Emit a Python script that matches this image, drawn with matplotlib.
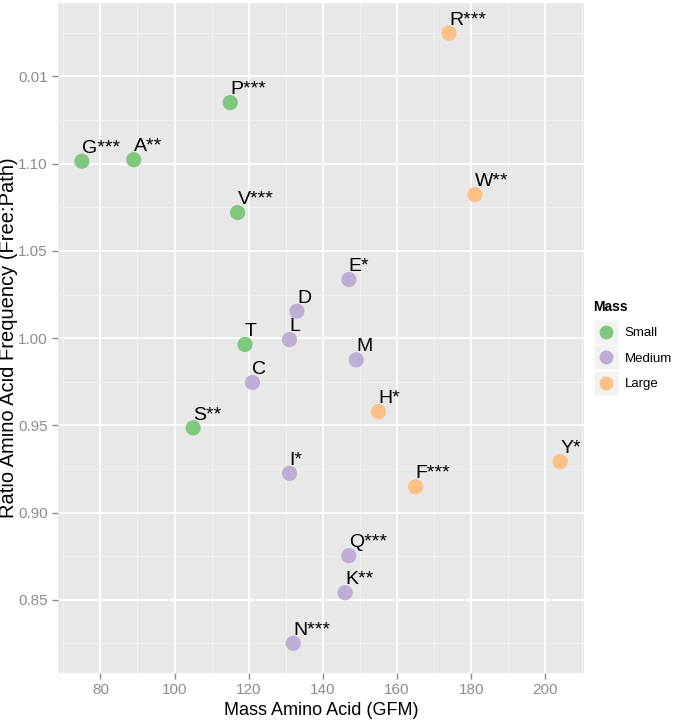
import matplotlib
matplotlib.use("Agg")
import matplotlib.pyplot as plt
from matplotlib.lines import Line2D
import numpy as np

plt.rcParams['font.family'] = ['Liberation Sans', 'DejaVu Sans']

# values
labels = ["G***", "A**", "P***", "V***", "T", "S**",
          "D", "L", "E*", "M", "C", "I*", "Q***", "K**", "N***",
          "R***", "W**", "H*", "F***", "Y*"]
mass = [75, 89, 115, 117, 119, 105,
        133, 131, 147, 149, 121, 131, 147, 146, 132,
        174, 181, 155, 165, 204]
ratio = [1.1014, 1.1023, 1.135, 1.072, 0.9964, 0.9486,
         1.0155, 0.9992, 1.0336, 0.9876, 0.9746, 0.9225, 0.8753, 0.8541, 0.8251,
         1.1748, 1.0823, 0.9578, 0.9148, 0.9292]
group = ["Small"] * 6 + ["Medium"] * 9 + ["Large"] * 5

groups = ["Small", "Medium", "Large"]
colors = {"Small": "#7FC97F", "Medium": "#BEAED4", "Large": "#FDC086"}

yticks = [0.85, 0.90, 0.95, 1.00, 1.05, 1.10, 1.15]
yticklabels = ["0.85", "0.90", "0.95", "1.00", "1.05", "1.10", "0.01"]
xticks = [80, 100, 120, 140, 160, 180, 200]

fig = plt.figure(figsize=(6.78, 7.2), dpi=100)
ax = fig.add_axes([0.0855, 0.0653, 0.776, 0.930])
ax.set_facecolor("#E8E8E8")

for g in groups:
    xs = [m for m, gg in zip(mass, group) if gg == g]
    ys = [r for r, gg in zip(ratio, group) if gg == g]
    ax.scatter(xs, ys, s=120, color=colors[g], edgecolors="none", zorder=3)

for lab, x, y in zip(labels, mass, ratio):
    ax.annotate(lab, (x, y), xytext=(0, 6), textcoords="offset points",
                ha="left", va="baseline", fontsize=14, color="black",
                zorder=4, clip_on=True)

ax.set_xlim(68.55, 210.45)
ax.set_ylim(0.8081, 1.1919)
ax.set_xticks(xticks)
ax.set_yticks(yticks)
ax.set_yticklabels(yticklabels)
ax.set_xticks(np.arange(70, 211, 10), minor=True)
ax.set_yticks(np.arange(0.825, 1.19, 0.05), minor=True)

ax.grid(which="major", color="white", linewidth=1.3)
ax.grid(which="minor", color="#F3F3F3", linewidth=0.6)
ax.set_axisbelow(True)
for sp in ax.spines.values():
    sp.set_visible(False)

ax.tick_params(which="major", length=4, width=1, color="#8C8C8C",
               labelcolor="#8C8C8C", labelsize=11)
ax.tick_params(which="minor", length=0)

ax.set_xlabel("Mass Amino Acid (GFM)", fontsize=13, labelpad=3)
ax.set_ylabel("Ratio Amino Acid Frequency (Free:Path)", fontsize=14.5, labelpad=0)

handles = []
for g in groups:
    box = Line2D([], [], marker="s", linestyle="none", markersize=17,
                 markerfacecolor="#F2F2F2", markeredgecolor="none")
    dot = Line2D([], [], marker="o", linestyle="none", markersize=10,
                 markerfacecolor=colors[g], markeredgecolor="none")
    handles.append((box, dot))
leg = fig.legend(handles, groups, title="Mass", loc="upper left",
                 bbox_to_anchor=(593 / 678, 1 - 300 / 720), frameon=False,
                 fontsize=9.5, title_fontsize=10, handletextpad=0.5,
                 handlelength=1.9, labelspacing=1.0, borderaxespad=0,
                 borderpad=0)
leg.get_title().set_fontweight("bold")
leg._legend_box.align = "left"

fig.savefig("out.png", dpi=100)
